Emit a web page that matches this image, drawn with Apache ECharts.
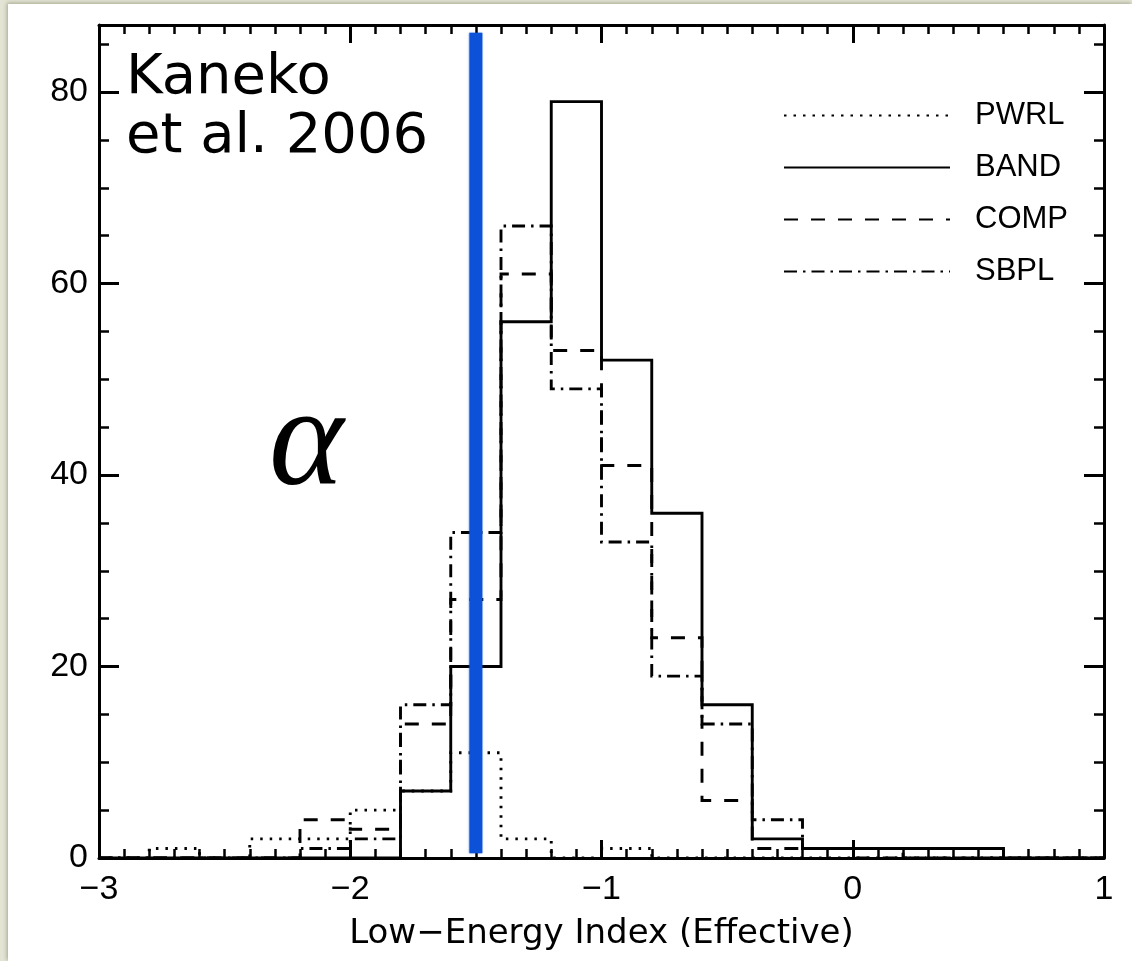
<!DOCTYPE html>
<html>
<head>
<meta charset="utf-8">
<script src="https://cdn.jsdelivr.net/npm/echarts@6/dist/echarts.min.js"></script>
<style>
  html, body { margin: 0; padding: 0; width: 1132px; height: 961px; overflow: hidden; background: #e3e4d3; }
  #paper { position: absolute; left: 8px; top: 4px; right: 0; bottom: 0; background: #ffffff;
           box-shadow: -1px -1px 4px rgba(90, 90, 60, 0.45); }
  #chart { position: absolute; left: 0; top: 0; width: 1132px; height: 961px; }
</style>
</head>
<body>
<div id="paper"></div>
<div id="chart"></div>
<script>
// Histogram bins (left edges, width 0.2) of the low-energy index
const binLeft = [-3.0, -2.8, -2.6, -2.4, -2.2, -2.0, -1.8, -1.6, -1.4, -1.2,
                 -1.0, -0.8, -0.6, -0.4, -0.2, 0.0, 0.2, 0.4, 0.6, 0.8];
const binEnd = 1.0;

// Counts per bin for each spectral model
const pwrl = [0, 1, 0, 2, 2, 5, 7, 11, 2, 0, 1, 0, 0, 0, 0, 0, 0, 0, 0, 0];
const band = [0, 0, 0, 0, 0, 0, 7, 20, 56, 79, 52, 36, 16, 2, 1, 1, 1, 1, 0, 0];
const comp = [0, 0, 0, 0, 4, 3, 14, 27, 61, 53, 41, 23, 6, 1, 1, 0, 0, 0, 0, 0];
const sbpl = [0, 0, 0, 0, 1, 2, 16, 34, 66, 49, 33, 19, 14, 4, 1, 1, 0, 0, 0, 0];

// Reference value of alpha marked by the vertical line
const alphaRef = -1.5;
const alphaSpan = [0.5, 86.2];

// Axis ticks
const xTickValues = [-3, -2, -1, 0, 1];
const xTickLabels = ['\u22123', '\u22122', '\u22121', '0', '1'];
const yTickValues = [0, 20, 40, 60, 80];
const yTickLabels = ['0', '20', '40', '60', '80'];

const INK = '#000000';
const SANS = '"Liberation Sans", Arial, Helvetica, sans-serif';

function stepData(counts) {
  const d = binLeft.map((x, i) => [x, counts[i]]);
  d.push([binEnd, counts[counts.length - 1]]);
  return d;
}

function histSeries(name, counts, dash) {
  return {
    name: name,
    type: 'line',
    step: 'end',
    data: stepData(counts),
    symbol: 'none',
    silent: true,
    animation: false,
    lineStyle: { color: INK, width: 2.9, type: dash, cap: 'butt', join: 'miter' },
    itemStyle: { color: INK },
    z: 3
  };
}

const tickLine = { color: INK, width: 3 };
const minorLine = { color: INK, width: 2.5 };

function xAxisDef(pos, withLabels) {
  const ax = {
    type: 'value', position: pos, min: -3, max: 1, interval: 1,
    axisLine: { show: true, onZero: false, lineStyle: { color: INK, width: 3 } },
    axisTick: { show: true, inside: true, length: 18, lineStyle: tickLine },
    minorTick: { show: true, splitNumber: 10, length: 9, lineStyle: minorLine },
    splitLine: { show: false }, minorSplitLine: { show: false },
    axisLabel: {
      show: withLabels, margin: 15, color: INK, fontFamily: SANS, fontSize: 34,
      formatter: v => { const i = xTickValues.indexOf(Math.round(v)); return i >= 0 ? xTickLabels[i] : ''; }
    }
  };
  if (withLabels) {
    ax.name = 'Low\u2212Energy Index (Effective)';
    ax.nameLocation = 'middle';
    ax.nameGap = 59;
    ax.nameTextStyle = { color: INK, fontFamily: '"DejaVu Sans", sans-serif', fontSize: 34 };
  }
  return ax;
}

function yAxisDef(pos, major, withLabels) {
  return {
    type: 'value', position: pos, min: 0, max: 87, interval: major ? 20 : 5,
    axisLine: { show: major, onZero: false, lineStyle: { color: INK, width: 3 } },
    axisTick: { show: true, inside: true, length: major ? 20 : 10, lineStyle: major ? tickLine : minorLine },
    splitLine: { show: false },
    axisLabel: {
      show: withLabels, margin: 11, color: INK, fontFamily: SANS, fontSize: 34,
      showMaxLabel: false,
      formatter: v => { const i = yTickValues.indexOf(v); return i >= 0 ? yTickLabels[i] : ''; }
    }
  };
}

const chart = echarts.init(document.getElementById('chart'), null, { renderer: 'canvas' });

chart.setOption({
  backgroundColor: 'transparent',
  animation: false,
  grid: { left: 99, right: 28, top: 25, bottom: 103, containLabel: false, outerBoundsMode: 'none' },
  xAxis: [xAxisDef('bottom', true), xAxisDef('top', false)],
  yAxis: [yAxisDef('left', true, true), yAxisDef('left', false, false),
          yAxisDef('right', true, false), yAxisDef('right', false, false)],
  legend: {
    orient: 'vertical', left: 783, top: 100, padding: 0,
    itemWidth: 166, itemHeight: 14, itemGap: 21,
    selectedMode: false,
    itemStyle: { opacity: 0 },
    data: ['PWRL', 'BAND', 'COMP', 'SBPL'],
    textStyle: { color: INK, fontFamily: SANS, fontSize: 31, padding: [0, 0, 0, 20] }
  },
  series: [
    histSeries('PWRL', pwrl, [2.5, 7]),
    histSeries('BAND', band, 'solid'),
    histSeries('COMP', comp, [14, 13]),
    histSeries('SBPL', sbpl, [13, 6, 2.5, 6]),
    {
      name: 'alpha',
      type: 'line',
      data: [[alphaRef, alphaSpan[0]], [alphaRef, alphaSpan[1]]],
      symbol: 'none', silent: true, animation: false,
      lineStyle: { color: '#0b52d8', width: 13, cap: 'butt', shadowColor: 'rgba(10,79,214,0.6)', shadowBlur: 2 },
      z: 5
    }
  ],
  graphic: [
    { type: 'text', x: 126, y: 78, silent: true,
      style: { text: 'Kaneko', fill: INK, font: '56px "DejaVu Sans", sans-serif', verticalAlign: 'middle' } },
    { type: 'text', x: 126, y: 137, silent: true,
      style: { text: 'et al. 2006', fill: INK, font: '56px "DejaVu Sans", sans-serif', verticalAlign: 'middle' } },
    { type: 'text', x: 269, y: 447, silent: true,
      style: { text: '\u03b1', fill: INK, font: 'italic 142px "Liberation Serif", "DejaVu Serif", serif', verticalAlign: 'middle' } }
  ]
});
</script>
</body>
</html>
